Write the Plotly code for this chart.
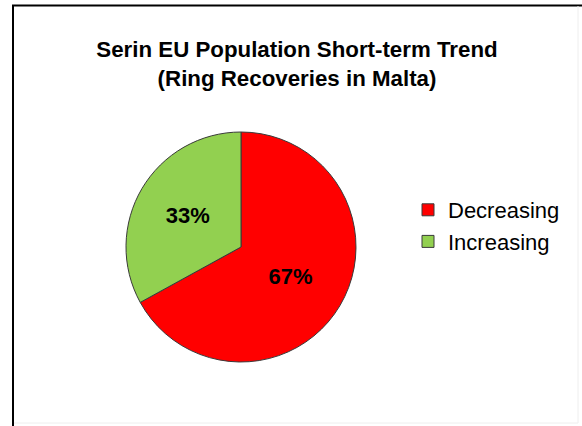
import plotly.graph_objects as go

labels = ["Decreasing", "Increasing"]
values = [67, 33]
colors = ["#FF0000", "#92D050"]

title_text = "<b>Serin EU Population Short-term Trend<br>(Ring Recoveries in Malta)</b>"

W, H = 582, 426
FONT = "Liberation Sans, Arial, sans-serif"

def px(x):
    return x / W

def py(y):
    return 1 - y / H

fig = go.Figure(go.Pie(
    labels=labels,
    values=values,
    sort=False,
    direction="clockwise",
    rotation=0,
    marker=dict(colors=colors, line=dict(color="#3a3a3a", width=1)),
    textinfo="percent",
    texttemplate="<b>%{percent:.0%}</b>",
    textposition="inside",
    insidetextorientation="horizontal",
    textfont=dict(family=FONT, size=22, color="black"),
    domain=dict(x=[px(126), px(356)], y=[py(362), py(132)]),
    showlegend=True,
    hoverinfo="label+percent",
))

fig.update_layout(
    width=W, height=H,
    margin=dict(l=0, r=0, t=0, b=0),
    paper_bgcolor="white",
    plot_bgcolor="white",
    title=dict(text=title_text, x=px(297), xanchor="center", y=py(57), yanchor="top",
               font=dict(family=FONT, size=22.3, color="black")),
    legend=dict(x=px(408), y=py(189), xanchor="left", yanchor="top",
                font=dict(family=FONT, size=22, color="black"),
                bgcolor="rgba(0,0,0,0)", itemwidth=30, tracegroupgap=0),
    shapes=[
        dict(type="line", xref="paper", yref="paper", x0=px(13), x1=px(13), y0=py(5), y1=py(426),
             line=dict(color="black", width=2)),
        dict(type="line", xref="paper", yref="paper", x0=px(12), x1=px(582), y0=py(5.5), y1=py(5.5),
             line=dict(color="black", width=2)),
        dict(type="line", xref="paper", yref="paper", x0=px(578), x1=px(578), y0=py(6), y1=py(423),
             line=dict(color="#eeeeee", width=1)),
        dict(type="line", xref="paper", yref="paper", x0=px(14), x1=px(578), y0=py(423), y1=py(423),
             line=dict(color="#eeeeee", width=1)),
    ],
)

fig.write_html("out.html", config={"displayModeBar": False},
               post_script="document.body.style.margin='0';document.body.style.padding='0';")
